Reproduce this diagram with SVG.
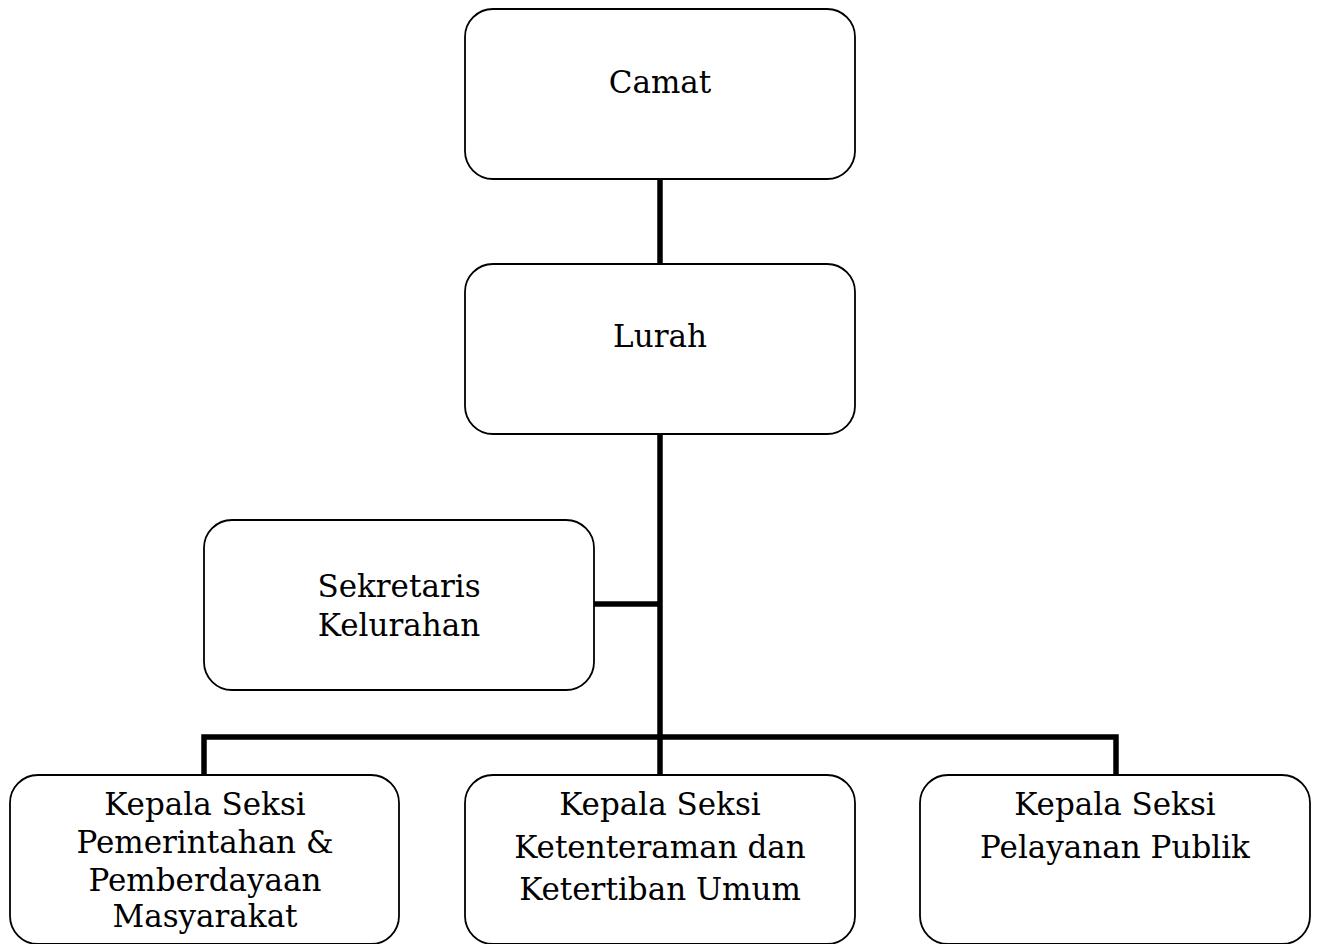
<svg xmlns="http://www.w3.org/2000/svg" width="1318" height="944" viewBox="0 0 1318 944">
<style>
.box{fill:#fff;stroke:#000;stroke-width:1.8}
.t{font-family:"DejaVu Serif","Liberation Serif",serif;font-size:31px;fill:#000;text-anchor:middle}
.c{fill:none;stroke:#000;stroke-width:5.5;stroke-linecap:butt}
</style>
<rect width="1318" height="944" fill="#fff"/>
<g id="connectors">
<line class="c" x1="660" y1="179" x2="660" y2="264"/>
<line class="c" x1="660" y1="434" x2="660" y2="775"/>
<line class="c" x1="594" y1="604" x2="660" y2="604"/>
<polyline class="c" points="204,775 204,737 1116,737 1116,775"/>
</g>
<g id="camat"><rect class="box" x="465" y="9" width="390" height="170" rx="28"/><text class="t" x="660" y="93">Camat</text></g>
<g id="lurah"><rect class="box" x="465" y="264" width="390" height="170" rx="28"/><text class="t" x="660" y="347">Lurah</text></g>
<g id="sekretaris"><rect class="box" x="204" y="520" width="390" height="170" rx="28"/><text class="t" x="399" y="597">Sekretaris</text><text class="t" x="399" y="636">Kelurahan</text></g>
<g id="pemerintahan"><rect class="box" x="10" y="775" width="389" height="169" rx="28"/><text class="t" x="205" y="815">Kepala Seksi</text><text class="t" x="205" y="853">Pemerintahan &amp;</text><text class="t" x="205" y="891">Pemberdayaan</text><text class="t" x="205" y="927">Masyarakat</text></g>
<g id="ketenteraman"><rect class="box" x="465" y="775" width="390" height="169" rx="28"/><text class="t" x="660" y="815">Kepala Seksi</text><text class="t" x="660" y="858">Ketenteraman dan</text><text class="t" x="660" y="900">Ketertiban Umum</text></g>
<g id="pelayanan"><rect class="box" x="920" y="775" width="390" height="169" rx="28"/><text class="t" x="1115" y="815">Kepala Seksi</text><text class="t" x="1115" y="858">Pelayanan Publik</text></g>
</svg>
